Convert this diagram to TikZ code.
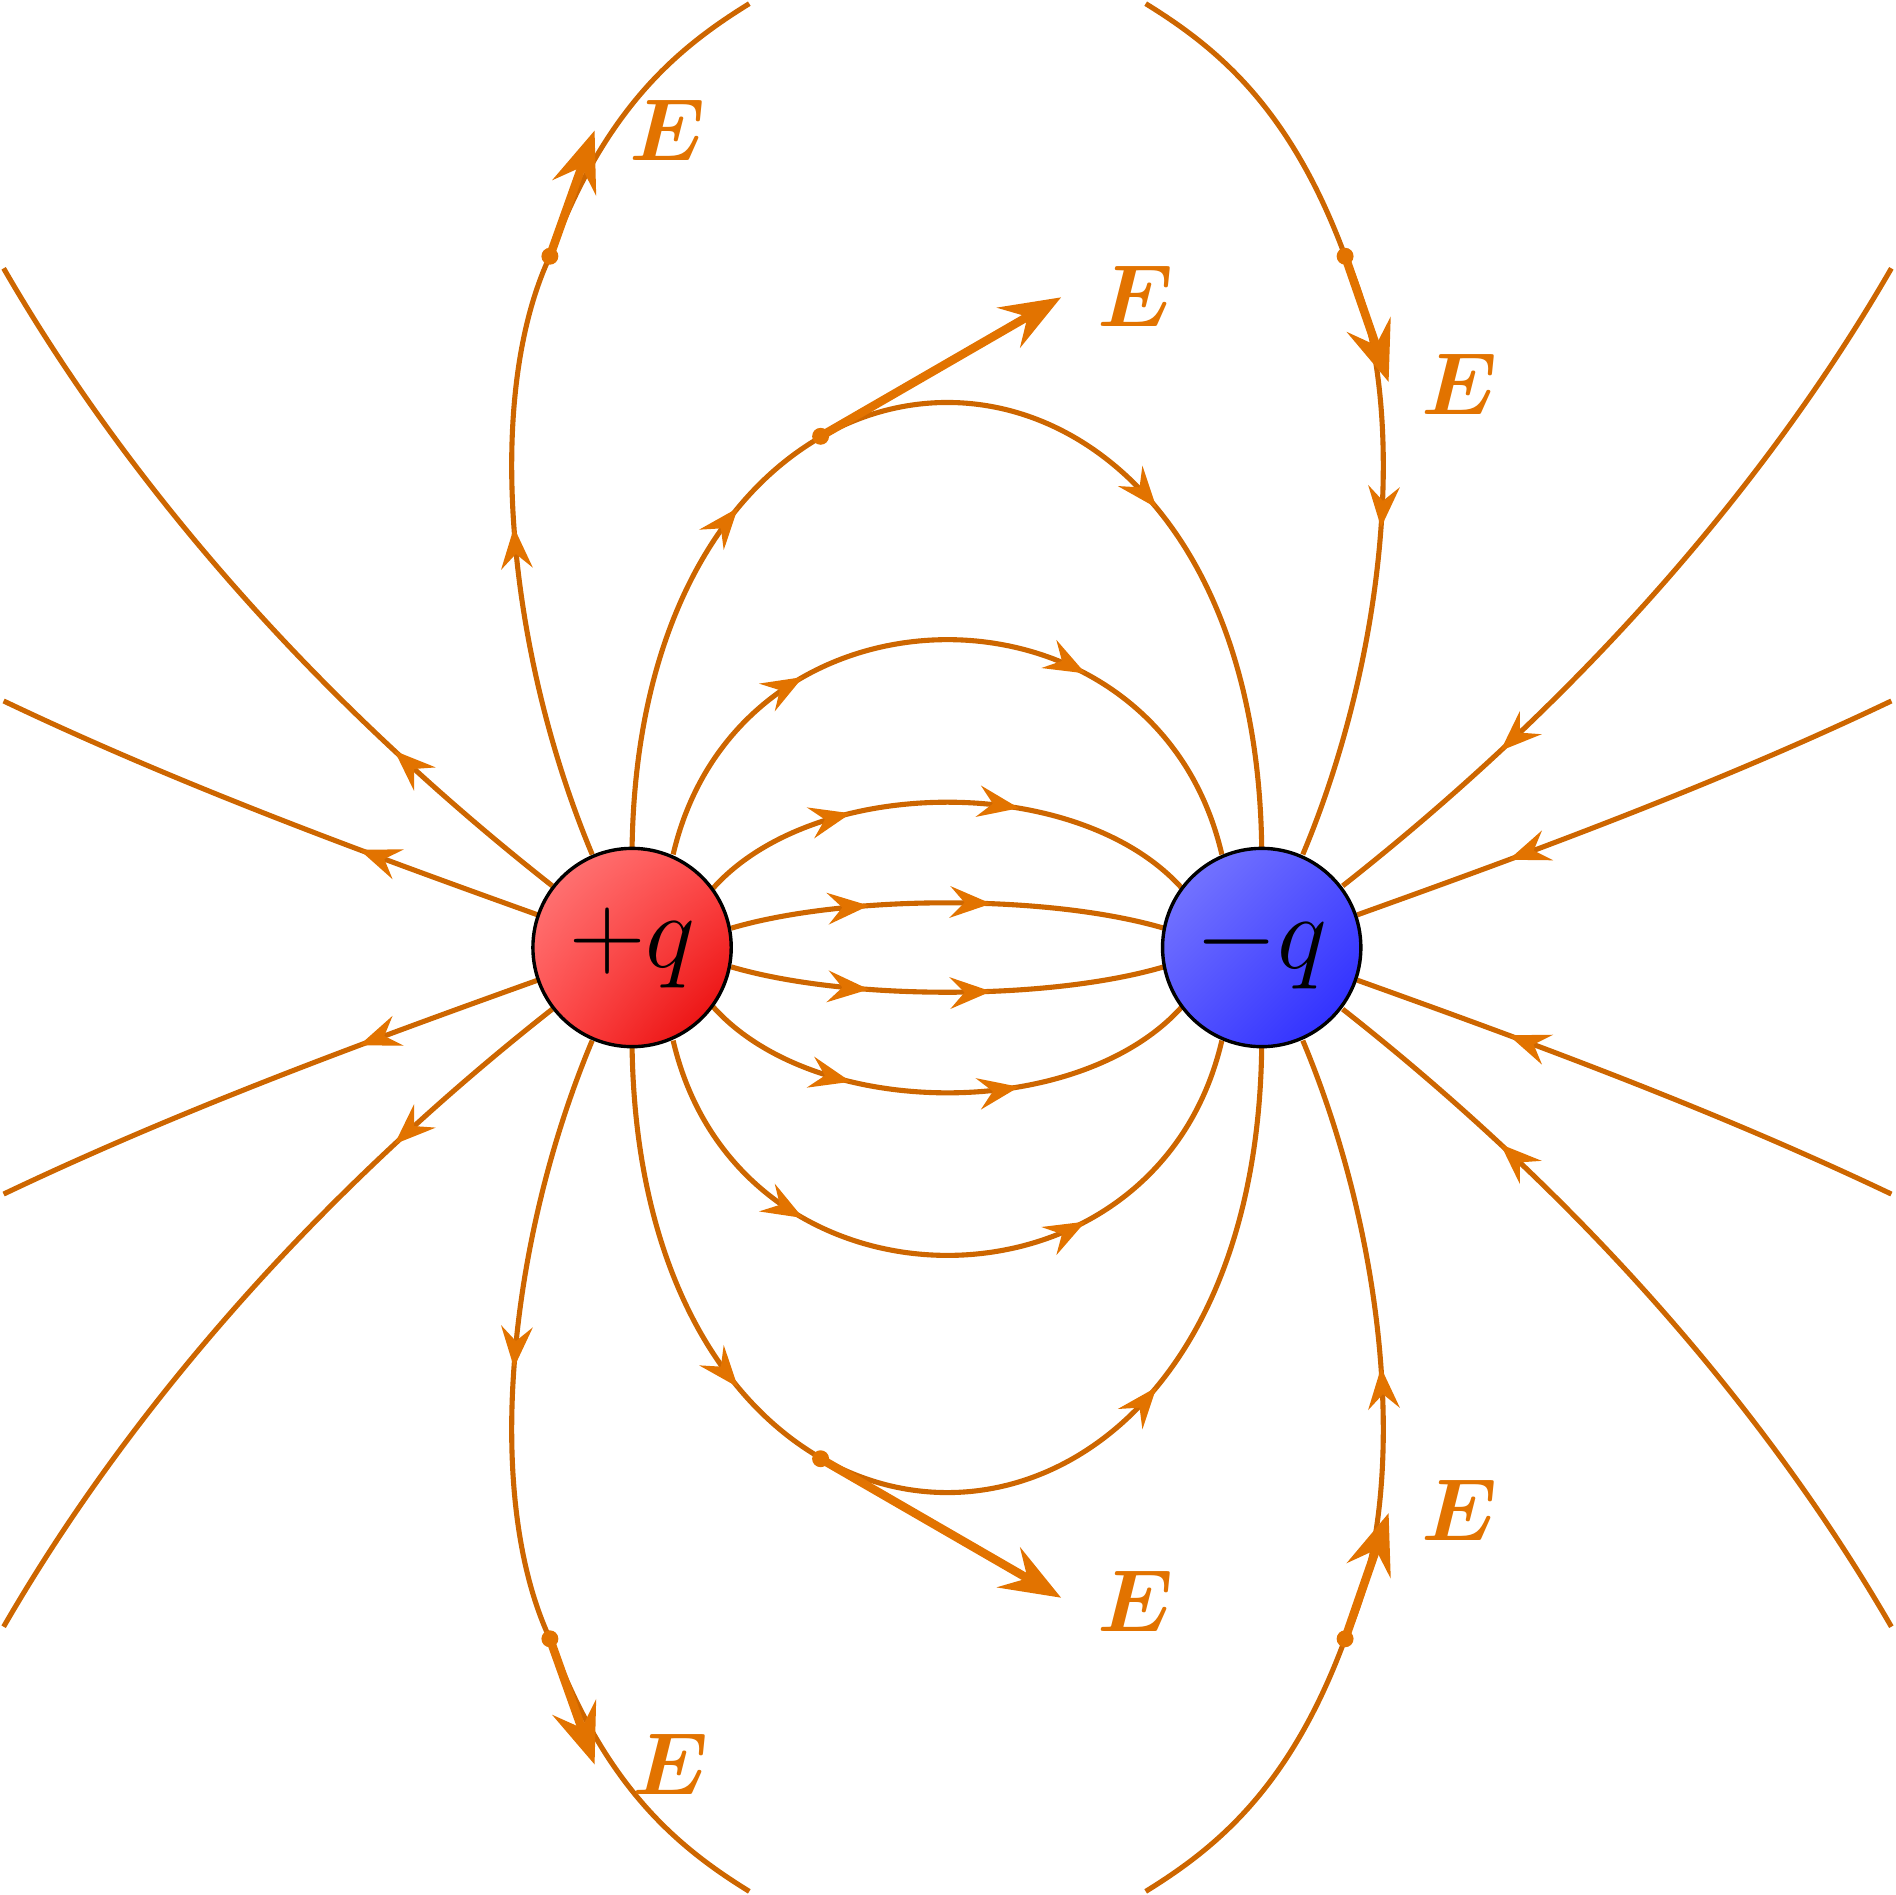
\documentclass[tikz,border=0pt]{standalone}
\usepackage{amsmath,bm}
\usetikzlibrary{arrows.meta,decorations.markings,shadings}
\definecolor{lc}{RGB}{205,102,0}
\definecolor{ac}{RGB}{226,115,0}
\tikzset{
 fl/.style={line width=1.2pt, draw=lc},
 ma/.style={postaction={decorate},decoration={markings,mark=at position #1 with {\arrow[ac]{Stealth[length=3.4mm,width=2.6mm,inset=1.2mm]}}}},
 mb/.style 2 args={postaction={decorate},decoration={markings,
   mark=at position #1 with {\arrow[ac]{Stealth[length=3.4mm,width=2.6mm,inset=1.2mm]}},
   mark=at position #2 with {\arrow[ac]{Stealth[length=3.4mm,width=2.6mm,inset=1.2mm]}}}},
 ev/.style={line width=2pt, draw=ac, -{Stealth[length=5mm,width=3.8mm,inset=1.8mm]}},
 dt/.style={circle, fill=ac, inner sep=0pt, minimum size=1.4mm},
 el/.style={text=ac, font=\huge},
 chg/.style={circle, draw=black, line width=0.8pt, minimum size=1.64cm, inner sep=0pt, font=\Huge},
}
\begin{document}
\begin{tikzpicture}[x=0.01cm,y=-0.01cm]
\useasboundingbox (0,0) rectangle (1568,1568);
\foreach \s/\sy in {0/1,1568/-1}{
\begin{scope}[shift={(0,\s)}, yscale=\sy]
 \draw[fl,mb={0.32}{0.6}] (605,768) .. controls (700,740) and (868,740) .. (963,768);
 \draw[fl,mb={0.31}{0.64}] (590,735) .. controls (675,640) and (893,640) .. (978,735);
 \draw[fl,mb={0.3}{0.69}] (557,707) .. controls (612,470) and (956,470) .. (1011,707);
 \draw[fl,mb={0.3}{0.7}] (523,702) .. controls (530,210) and (1038,210) .. (1044,702);
 \draw[fl,ma=0.33] (445,757) .. controls (300,705) and (150,650) .. (3,580);
 \draw[fl,ma=0.25] (457,733) .. controls (250,570) and (100,390) .. (3,222);
 \draw[fl,ma=0.55] (490,707) .. controls (420,540) and (400,330) .. (455,212);
 \draw[fl] (455,212) .. controls (500,90) and (560,40) .. (620,3);
 \draw[fl,ma=0.72] (1565,580) .. controls (1418,650) and (1268,705) .. (1123,757);
 \draw[fl,ma=0.75] (1565,222) .. controls (1468,390) and (1318,570) .. (1111,733);
 \draw[fl] (948,3) .. controls (1008,40) and (1068,90) .. (1113,212);
 \draw[fl,ma=0.45] (1113,212) .. controls (1168,330) and (1148,540) .. (1078,707);
\end{scope}}
\node[dt] (d1) at (679,361) {}; \coordinate (e1) at (878,246);
\draw[ev] (d1.center) -- (e1); \node[el] (l1) at (940,245) {$\bm{E}$};
\node[dt] (d2) at (679,1207) {}; \coordinate (e2) at (878,1322);
\draw[ev] (d2.center) -- (e2); \node[el] (l2) at (940,1325) {$\bm{E}$};
\node[dt] (d3) at (455,212) {}; \coordinate (e3) at (492,108);
\draw[ev] (d3.center) -- (e3); \node[el] (l3) at (552,108) {$\bm{E}$};
\node[dt] (d4) at (455,1356) {}; \coordinate (e4) at (492,1460);
\draw[ev] (d4.center) -- (e4); \node[el] (l4) at (555,1460) {$\bm{E}$};
\node[dt] (d5) at (1113,212) {}; \coordinate (e5) at (1149,316);
\draw[ev] (d5.center) -- (e5); \node[el] (l5) at (1208,318) {$\bm{E}$};
\node[dt] (d6) at (1113,1356) {}; \coordinate (e6) at (1149,1252);
\draw[ev] (d6.center) -- (e6); \node[el] (l6) at (1208,1250) {$\bm{E}$};
\node[chg, upper left=red!50, lower right=red!90!black, upper right=red!70, lower left=red!70] (p) at (523,784) {$+q$};
\node[chg, upper left=blue!50, lower right=blue!85, upper right=blue!68, lower left=blue!68] (n) at (1044,784) {$-q$};
\end{tikzpicture}
\end{document}
